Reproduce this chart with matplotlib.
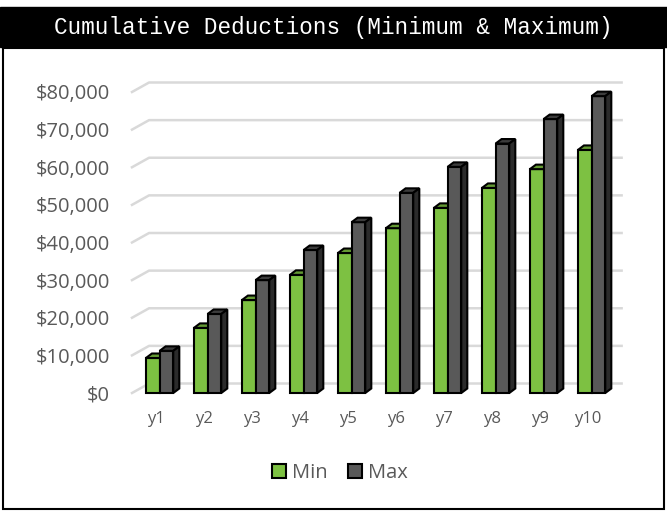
import numpy as np
import matplotlib
matplotlib.use('Agg')
import matplotlib.pyplot as plt
from matplotlib.patches import Polygon, Rectangle, Patch

years = ['y1', 'y2', 'y3', 'y4', 'y5', 'y6', 'y7', 'y8', 'y9', 'y10']
min_vals = [9300, 17300, 24700, 31400, 37200, 43800, 49200, 54500, 59500, 64600]
max_vals = [11200, 21000, 30000, 38000, 45400, 53200, 60100, 66300, 72800, 78900]
yticks = np.arange(0, 80001, 10000)

GREEN = '#7DC142'
GREY = '#595959'
TEXT = '#595959'

W, H = 667, 511
fig = plt.figure(figsize=(W / 100, H / 100), dpi=100)
ax = fig.add_axes([132 / W, (H - 393) / H, 480 / W, 301 / H])
ax.set_xlim(-0.5, 9.5)
ax.set_ylim(0, 80000)

px_x = 1 / 47.8          # data units per pixel, x
px_y = 80000 / 301       # data units per pixel, y

# back wall gridlines with the slanted side-wall part
wall_dx, wall_dy = 17 * px_x, 9.5 * px_y
for v in yticks:
    ax.plot([-0.5, -0.5 + wall_dx, 9.7], [v, v + wall_dy, v + wall_dy],
            color='#D9D9D9', lw=1.8, clip_on=False, zorder=1)

# bars with a little depth
bw = 0.285
ddx, ddy = 6 * px_x, 4.5 * px_y
x = np.arange(len(years))
series = [(min_vals, -0.21, GREEN, '#649A33', None),
          (max_vals, -0.21 + bw, GREY, '#3C3C3C', '#2B2B2B')]
for vals, off, face, top, side in series:
    ax.bar(x + off, vals, width=bw, align='edge', color=face,
           edgecolor='black', lw=1.5, zorder=3, clip_on=False)
    for xi, v in zip(x, vals):
        x0, x1 = xi + off, xi + off + bw
        ax.add_patch(Polygon([(x0, v), (x0 + ddx, v + ddy), (x1 + ddx, v + ddy), (x1, v)],
                             closed=True, fc=top, ec='black', lw=1.5, zorder=3, clip_on=False))
        if side:
            ax.add_patch(Polygon([(x1, 0), (x1 + ddx, ddy), (x1 + ddx, v + ddy), (x1, v)],
                                 closed=True, fc=side, ec='black', lw=1.5, zorder=3, clip_on=False))

ax.set_xticks(x)
ax.set_xticklabels(years, fontsize=12, color=TEXT, family='Open Sans')
ax.set_yticks(yticks)
ax.set_yticklabels([f'${v:,.0f}' for v in yticks], fontsize=14.5, color=TEXT, family='Open Sans')
ax.tick_params(axis='both', length=0)
ax.tick_params(axis='y', pad=16)
ax.tick_params(axis='x', pad=13)
for s in ax.spines.values():
    s.set_visible(False)
ax.patch.set_visible(False)

# title bar
fig.add_artist(Rectangle((0, 1 - 47 / H), 1, 40 / H, transform=fig.transFigure,
                         color='black', zorder=0))
fig.text(333 / W, 1 - 27 / H, 'Cumulative Deductions (Minimum & Maximum)',
         color='white', family='Liberation Mono', fontsize=16.3, ha='center', va='center')
# outer border
fig.add_artist(Rectangle((3 / W, 2 / H), 661 / W, (H - 50) / H, transform=fig.transFigure,
                         fill=False, ec='black', lw=1.5))

handles = [Patch(fc=GREEN, ec='black', lw=1.5, label='Min'),
           Patch(fc=GREY, ec='black', lw=1.5, label='Max')]
leg = fig.legend(handles=handles, loc='center', bbox_to_anchor=(340 / W, 1 - 473 / H),
                 ncol=2, frameon=False, handlelength=0.7, handleheight=0.7,
                 columnspacing=1.0, handletextpad=0.3, prop={'family': 'Open Sans', 'size': 14.5})
for t in leg.get_texts():
    t.set_color(TEXT)

fig.savefig('out.png', dpi=100)
